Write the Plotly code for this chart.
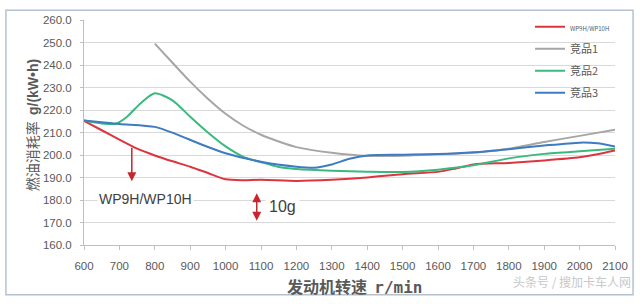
import plotly.graph_objects as go

# ---- data ----
rpm_red = [600, 650, 700, 750, 800, 850, 900, 950, 1000, 1050, 1100, 1200, 1300, 1400, 1500, 1600, 1650, 1700, 1800, 1900, 2000, 2050, 2100]
bsfc_red = [215.2, 211.0, 206.8, 202.8, 199.8, 197.2, 194.8, 192.0, 189.2, 188.8, 189.0, 188.5, 189.0, 190.0, 191.5, 192.5, 194.0, 195.8, 196.5, 197.6, 199.0, 200.3, 202.0]

rpm_c1 = [800, 850, 900, 950, 1000, 1050, 1100, 1150, 1200, 1300, 1400, 1500, 1600, 1700, 1800, 1900, 2000, 2100]
bsfc_c1 = [249.5, 241.0, 232.6, 225.0, 218.3, 213.0, 209.0, 206.0, 203.5, 201.0, 199.6, 199.7, 200.3, 201.0, 202.8, 205.8, 208.5, 211.2]

rpm_c2 = [600, 650, 690, 720, 760, 800, 850, 900, 950, 1000, 1050, 1100, 1150, 1200, 1300, 1400, 1500, 1600, 1700, 1800, 1900, 2000, 2100]
bsfc_c2 = [215.3, 214.0, 213.9, 216.8, 223.0, 227.4, 224.3, 217.0, 210.0, 203.8, 199.2, 196.8, 194.7, 193.8, 193.0, 192.6, 192.5, 193.5, 195.4, 198.5, 200.5, 201.7, 202.8]

rpm_c3 = [600, 700, 800, 860, 930, 1000, 1100, 1200, 1250, 1300, 1350, 1400, 1500, 1600, 1700, 1800, 1900, 2000, 2050, 2100]
bsfc_c3 = [215.3, 213.8, 212.5, 209.3, 204.8, 200.8, 197.0, 194.8, 194.3, 195.8, 198.3, 199.8, 200.1, 200.4, 201.2, 202.6, 204.2, 205.5, 205.2, 203.8]

series_names = ["<span style='font-size:6px'>WP9H/WP10H</span>", "竞品1", "竞品2", "竞品3"]
series_colors = ["#dc3540", "#a6a6a6", "#3ab87e", "#3d7cc0"]

x_ticks = list(range(600, 2101, 100))
y_ticks = list(range(160, 261, 10))

# annotation anchors (data units)
arrow1_x, arrow1_tip = 735, 188.3
label1_x, label1_y = 774, 180.3
arrow2_x, arrow2_tip = 1088, 170.8
label2_x, label2_y = 1162, 176.9

fig = go.Figure()
for xs, ys, nm, col in zip([rpm_red, rpm_c1, rpm_c2, rpm_c3],
                           [bsfc_red, bsfc_c1, bsfc_c2, bsfc_c3],
                           series_names, series_colors):
    fig.add_trace(go.Scatter(x=xs, y=ys, name=nm, mode="lines",
                             line=dict(color=col, width=2, shape="spline", smoothing=0.7),
                             legendgroup=nm))

tick_font = dict(family="Liberation Sans, Arial, sans-serif", size=11.5, color="#595959")

fig.update_layout(
    width=640, height=304,
    margin=dict(l=84, r=25, t=14, b=59),
    paper_bgcolor="white", plot_bgcolor="white",
    showlegend=True,
    legend=dict(x=0.84, xanchor="left", y=1.034, yanchor="top",
                bgcolor="rgba(0,0,0,0)", font=dict(family="Noto Sans CJK SC", size=11, color="#595959"),
                tracegroupgap=3, itemwidth=30),
    xaxis=dict(range=[600, 2100], tickvals=x_ticks, ticktext=[str(v) for v in x_ticks],
               showgrid=False, zeroline=False, showline=True, linecolor="#bfbfbf", linewidth=1,
               ticks="outside", ticklen=4, tickcolor="#bfbfbf", tickfont=tick_font,
               ticklabelstandoff=6),
    yaxis=dict(range=[160, 260], tickvals=y_ticks, ticktext=[f"{v:.1f}" for v in y_ticks],
               showgrid=True, gridcolor="#d9d9d9", gridwidth=1, zeroline=False,
               showline=True, linecolor="#bfbfbf", linewidth=1,
               ticks="outside", ticklen=3, tickcolor="#bfbfbf", tickfont=tick_font,
               ticklabelstandoff=6),
)

# Arrows and labels
fig.add_annotation(x=arrow1_x, y=arrow1_tip, xref="x", yref="y", ax=0, ay=-35,
                   showarrow=True, arrowhead=2, arrowsize=1.2,
                   arrowwidth=1.5, arrowcolor="#c8262e", text="")
fig.add_annotation(x=label1_x, y=label1_y, xref="x", yref="y", showarrow=False,
                   text="WP9H/WP10H", bgcolor="white",
                   font=dict(family="Liberation Sans, Arial", size=14, color="#404040"))
fig.add_annotation(x=arrow2_x, y=arrow2_tip, xref="x", yref="y", ax=0, ay=-29,
                   showarrow=True, arrowhead=2, startarrowhead=2,
                   arrowside="end+start", arrowsize=1.2, startarrowsize=1.2,
                   arrowwidth=1.5, arrowcolor="#c8262e", text="")
fig.add_annotation(x=label2_x, y=label2_y, xref="x", yref="y", showarrow=False,
                   text="10g", bgcolor="white", borderpad=3,
                   font=dict(family="Liberation Sans, Arial", size=16, color="#404040"))

# axis titles
fig.add_annotation(x=-0.1205, y=0.532, xref="paper", yref="paper", showarrow=False,
                   text="燃油消耗率  <span style='font-family:Liberation Sans'><b>g/(kW•h)</b></span>",
                   textangle=-90,
                   font=dict(family="Noto Sans CJK SC", size=14, color="#595959"))
fig.add_annotation(x=0.51, y=-0.245, xref="paper", yref="paper", showarrow=False,
                   text="<b>发动机转速  <span style='font-family:DejaVu Sans Mono'>r/min</span></b>",
                   font=dict(family="Noto Sans CJK SC", size=16, color="#595959"))
# watermark
fig.add_annotation(x=1.034, y=-0.21, xref="paper", yref="paper", showarrow=False,
                   xanchor="right", text="头条号 / 搜加卡车人网",
                   font=dict(family="Noto Sans CJK SC", size=12, color="#c8c8c8"))

# outer border
fig.add_shape(type="rect", xref="paper", yref="paper", x0=-0.147, x1=1.034, y0=-0.221, y1=1.043,
              line=dict(color="#b4c2d0", width=1.5), fillcolor="rgba(0,0,0,0)", layer="below")

fig.write_html("out.html")
